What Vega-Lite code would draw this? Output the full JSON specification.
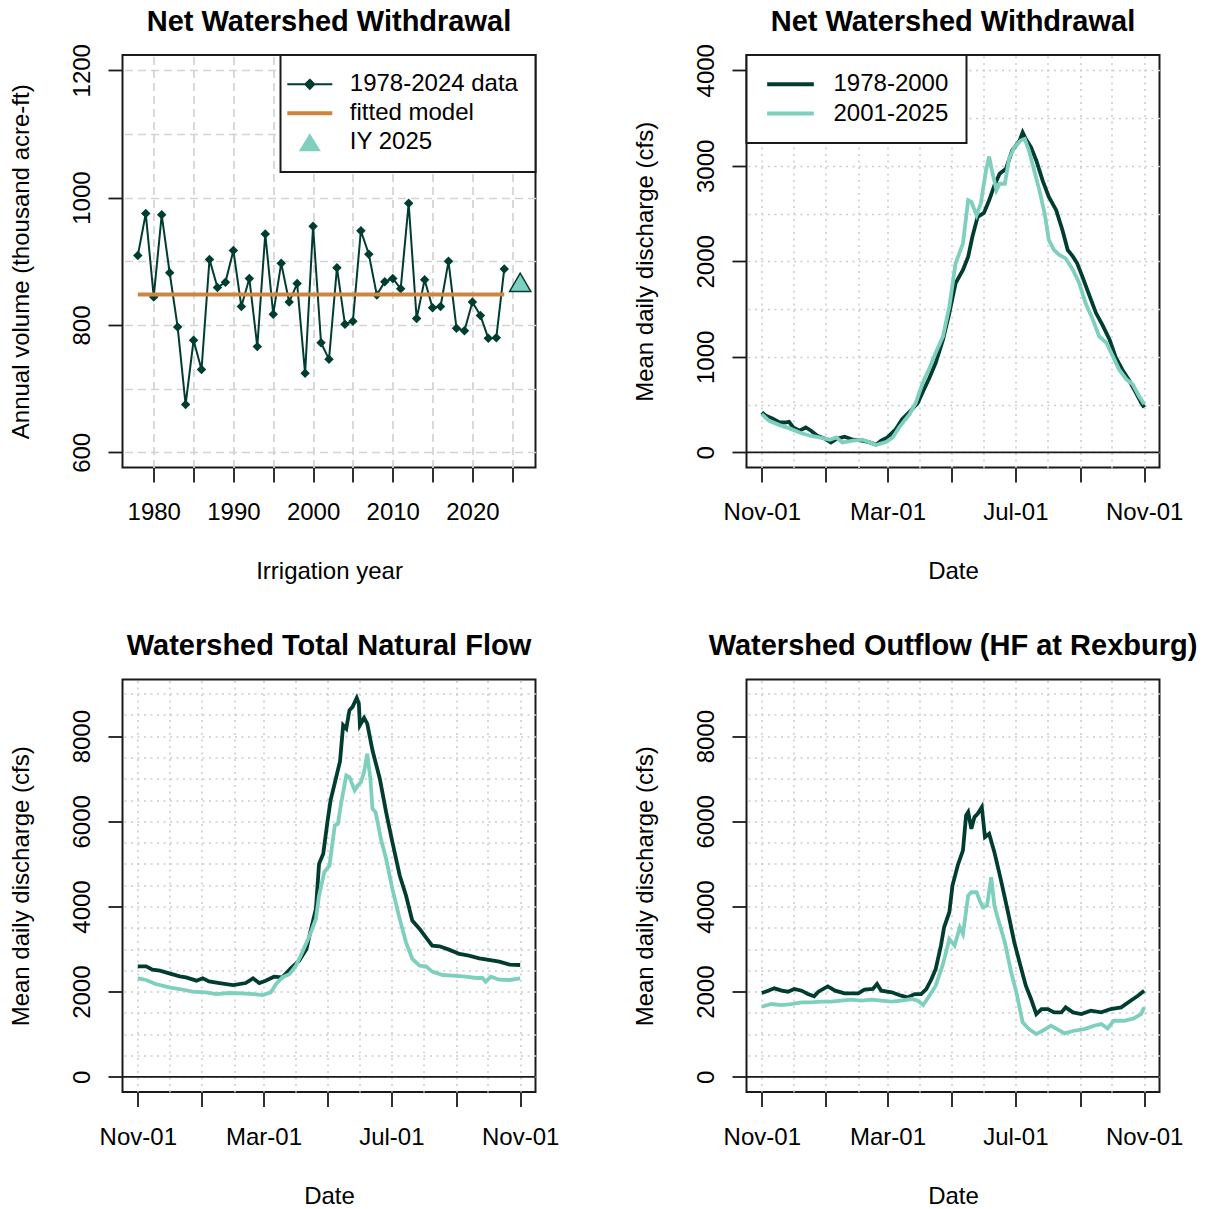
{
"$schema": "https://vega.github.io/schema/vega-lite/v6.json",
"background": "white",
"padding": {"left": 8.5, "top": 7, "right": 0, "bottom": 0},
"bounds": "flush",
"columns": 2,
"spacing": {"row": 211.5, "column": 211},
"resolve": {"scale": {"color": "independent"}, "legend": {"color": "independent"}},
"config": {
  "font": "Liberation Sans",
  "view": {"stroke": "#1a1a1a", "strokeWidth": 2},
  "axis": {"labelFont": "Liberation Sans", "labelFontSize": 24, "labelColor": "#000000", "titleFont": "Liberation Sans", "titleFontSize": 24, "titleFontWeight": "normal", "titleColor": "#000000", "tickColor": "#1a1a1a", "tickWidth": 1.8, "tickSize": 14.5, "domain": false, "grid": false, "labelFlush": false, "labelOverlap": false, "labelBound": false},
  "title": {"font": "Liberation Sans", "fontSize": 29, "fontWeight": "bold", "color": "#000000", "anchor": "middle", "baseline": "alphabetic", "frame": "group"},
  "legend": {"labelFont": "Liberation Sans", "labelFontSize": 24, "labelColor": "#000000", "labelLimit": 400, "strokeColor": "#1a1a1a", "strokeWidth": 2, "fillColor": "#ffffff", "cornerRadius": 0}
},
"datasets": {
  "annual": [
    {"year":1978,"volume":909,"series":"1978-2024 data"},{"year":1979,"volume":975,"series":"1978-2024 data"},{"year":1980,"volume":844,"series":"1978-2024 data"},{"year":1981,"volume":973,"series":"1978-2024 data"},{"year":1982,"volume":882,"series":"1978-2024 data"},{"year":1983,"volume":797,"series":"1978-2024 data"},{"year":1984,"volume":675,"series":"1978-2024 data"},{"year":1985,"volume":776,"series":"1978-2024 data"},{"year":1986,"volume":730,"series":"1978-2024 data"},{"year":1987,"volume":903,"series":"1978-2024 data"},{"year":1988,"volume":859,"series":"1978-2024 data"},{"year":1989,"volume":867,"series":"1978-2024 data"},{"year":1990,"volume":917,"series":"1978-2024 data"},{"year":1991,"volume":829,"series":"1978-2024 data"},{"year":1992,"volume":873,"series":"1978-2024 data"},{"year":1993,"volume":766,"series":"1978-2024 data"},{"year":1994,"volume":943,"series":"1978-2024 data"},{"year":1995,"volume":817,"series":"1978-2024 data"},{"year":1996,"volume":897,"series":"1978-2024 data"},{"year":1997,"volume":836,"series":"1978-2024 data"},{"year":1998,"volume":865,"series":"1978-2024 data"},{"year":1999,"volume":724,"series":"1978-2024 data"},{"year":2000,"volume":955,"series":"1978-2024 data"},{"year":2001,"volume":772,"series":"1978-2024 data"},{"year":2002,"volume":746,"series":"1978-2024 data"},{"year":2003,"volume":890,"series":"1978-2024 data"},{"year":2004,"volume":801,"series":"1978-2024 data"},{"year":2005,"volume":806,"series":"1978-2024 data"},{"year":2006,"volume":948,"series":"1978-2024 data"},{"year":2007,"volume":911,"series":"1978-2024 data"},{"year":2008,"volume":847,"series":"1978-2024 data"},{"year":2009,"volume":868,"series":"1978-2024 data"},{"year":2010,"volume":873,"series":"1978-2024 data"},{"year":2011,"volume":857,"series":"1978-2024 data"},{"year":2012,"volume":991,"series":"1978-2024 data"},{"year":2013,"volume":810,"series":"1978-2024 data"},{"year":2014,"volume":871,"series":"1978-2024 data"},{"year":2015,"volume":827,"series":"1978-2024 data"},{"year":2016,"volume":829,"series":"1978-2024 data"},{"year":2017,"volume":900,"series":"1978-2024 data"},{"year":2018,"volume":795,"series":"1978-2024 data"},{"year":2019,"volume":791,"series":"1978-2024 data"},{"year":2020,"volume":836,"series":"1978-2024 data"},{"year":2021,"volume":815,"series":"1978-2024 data"},{"year":2022,"volume":779,"series":"1978-2024 data"},{"year":2023,"volume":780,"series":"1978-2024 data"},{"year":2024,"volume":888,"series":"1978-2024 data"}
  ],
  "fitted": [
    {"year":1978,"volume":848,"series":"\u00a0fitted model"},{"year":2024,"volume":848,"series":"\u00a0fitted model"}
  ],
  "iy2025": [
    {"year":2026,"volume":867,"series":"IY 2025"}
  ],
  "zero": [{"level":0}],
  "nw": [
    {"day":0,"cfs":417,"period":"1978-2000"},{"day":4,"cfs":382,"period":"1978-2000"},{"day":10,"cfs":354,"period":"1978-2000"},{"day":17,"cfs":312,"period":"1978-2000"},{"day":22,"cfs":312,"period":"1978-2000"},{"day":26,"cfs":319,"period":"1978-2000"},{"day":30,"cfs":260,"period":"1978-2000"},{"day":36,"cfs":226,"period":"1978-2000"},{"day":42,"cfs":260,"period":"1978-2000"},{"day":47,"cfs":226,"period":"1978-2000"},{"day":53,"cfs":174,"period":"1978-2000"},{"day":61,"cfs":139,"period":"1978-2000"},{"day":66,"cfs":104,"period":"1978-2000"},{"day":71,"cfs":139,"period":"1978-2000"},{"day":79,"cfs":163,"period":"1978-2000"},{"day":87,"cfs":132,"period":"1978-2000"},{"day":96,"cfs":122,"period":"1978-2000"},{"day":103,"cfs":104,"period":"1978-2000"},{"day":109,"cfs":80,"period":"1978-2000"},{"day":114,"cfs":122,"period":"1978-2000"},{"day":120,"cfs":156,"period":"1978-2000"},{"day":128,"cfs":243,"period":"1978-2000"},{"day":134,"cfs":347,"period":"1978-2000"},{"day":142,"cfs":434,"period":"1978-2000"},{"day":149,"cfs":520,"period":"1978-2000"},{"day":154,"cfs":640,"period":"1978-2000"},{"day":160,"cfs":780,"period":"1978-2000"},{"day":166,"cfs":937,"period":"1978-2000"},{"day":173,"cfs":1180,"period":"1978-2000"},{"day":179,"cfs":1458,"period":"1978-2000"},{"day":185,"cfs":1771,"period":"1978-2000"},{"day":192,"cfs":1910,"period":"1978-2000"},{"day":197,"cfs":2049,"period":"1978-2000"},{"day":201,"cfs":2257,"period":"1978-2000"},{"day":206,"cfs":2465,"period":"1978-2000"},{"day":212,"cfs":2507,"period":"1978-2000"},{"day":217,"cfs":2639,"period":"1978-2000"},{"day":222,"cfs":2795,"period":"1978-2000"},{"day":227,"cfs":2917,"period":"1978-2000"},{"day":233,"cfs":2969,"period":"1978-2000"},{"day":239,"cfs":3160,"period":"1978-2000"},{"day":246,"cfs":3264,"period":"1978-2000"},{"day":249,"cfs":3351,"period":"1978-2000"},{"day":252,"cfs":3281,"period":"1978-2000"},{"day":257,"cfs":3194,"period":"1978-2000"},{"day":262,"cfs":3056,"period":"1978-2000"},{"day":268,"cfs":2847,"period":"1978-2000"},{"day":274,"cfs":2674,"period":"1978-2000"},{"day":281,"cfs":2535,"period":"1978-2000"},{"day":287,"cfs":2326,"period":"1978-2000"},{"day":292,"cfs":2118,"period":"1978-2000"},{"day":297,"cfs":2049,"period":"1978-2000"},{"day":301,"cfs":1979,"period":"1978-2000"},{"day":306,"cfs":1840,"period":"1978-2000"},{"day":313,"cfs":1632,"period":"1978-2000"},{"day":319,"cfs":1458,"period":"1978-2000"},{"day":325,"cfs":1337,"period":"1978-2000"},{"day":332,"cfs":1180,"period":"1978-2000"},{"day":338,"cfs":990,"period":"1978-2000"},{"day":344,"cfs":868,"period":"1978-2000"},{"day":351,"cfs":747,"period":"1978-2000"},{"day":357,"cfs":625,"period":"1978-2000"},{"day":362,"cfs":521,"period":"1978-2000"},{"day":365,"cfs":469,"period":"1978-2000"},
    {"day":0,"cfs":399,"period":"2001-2025"},{"day":7,"cfs":330,"period":"2001-2025"},{"day":17,"cfs":285,"period":"2001-2025"},{"day":26,"cfs":253,"period":"2001-2025"},{"day":36,"cfs":208,"period":"2001-2025"},{"day":46,"cfs":174,"period":"2001-2025"},{"day":55,"cfs":156,"period":"2001-2025"},{"day":65,"cfs":132,"period":"2001-2025"},{"day":71,"cfs":156,"period":"2001-2025"},{"day":77,"cfs":104,"period":"2001-2025"},{"day":87,"cfs":122,"period":"2001-2025"},{"day":96,"cfs":132,"period":"2001-2025"},{"day":103,"cfs":104,"period":"2001-2025"},{"day":109,"cfs":76,"period":"2001-2025"},{"day":119,"cfs":111,"period":"2001-2025"},{"day":125,"cfs":156,"period":"2001-2025"},{"day":131,"cfs":260,"period":"2001-2025"},{"day":141,"cfs":399,"period":"2001-2025"},{"day":147,"cfs":520,"period":"2001-2025"},{"day":154,"cfs":740,"period":"2001-2025"},{"day":160,"cfs":880,"period":"2001-2025"},{"day":166,"cfs":1042,"period":"2001-2025"},{"day":173,"cfs":1215,"period":"2001-2025"},{"day":179,"cfs":1528,"period":"2001-2025"},{"day":185,"cfs":1979,"period":"2001-2025"},{"day":192,"cfs":2188,"period":"2001-2025"},{"day":197,"cfs":2639,"period":"2001-2025"},{"day":200,"cfs":2622,"period":"2001-2025"},{"day":205,"cfs":2483,"period":"2001-2025"},{"day":209,"cfs":2604,"period":"2001-2025"},{"day":214,"cfs":2951,"period":"2001-2025"},{"day":217,"cfs":3097,"period":"2001-2025"},{"day":220,"cfs":2934,"period":"2001-2025"},{"day":224,"cfs":2743,"period":"2001-2025"},{"day":227,"cfs":2812,"period":"2001-2025"},{"day":232,"cfs":2812,"period":"2001-2025"},{"day":236,"cfs":3073,"period":"2001-2025"},{"day":241,"cfs":3194,"period":"2001-2025"},{"day":247,"cfs":3264,"period":"2001-2025"},{"day":251,"cfs":3281,"period":"2001-2025"},{"day":255,"cfs":3160,"period":"2001-2025"},{"day":260,"cfs":2951,"period":"2001-2025"},{"day":265,"cfs":2743,"period":"2001-2025"},{"day":270,"cfs":2500,"period":"2001-2025"},{"day":274,"cfs":2222,"period":"2001-2025"},{"day":279,"cfs":2118,"period":"2001-2025"},{"day":284,"cfs":2066,"period":"2001-2025"},{"day":290,"cfs":2031,"period":"2001-2025"},{"day":297,"cfs":1910,"period":"2001-2025"},{"day":303,"cfs":1771,"period":"2001-2025"},{"day":309,"cfs":1562,"period":"2001-2025"},{"day":316,"cfs":1389,"period":"2001-2025"},{"day":322,"cfs":1215,"period":"2001-2025"},{"day":329,"cfs":1146,"period":"2001-2025"},{"day":335,"cfs":1007,"period":"2001-2025"},{"day":341,"cfs":868,"period":"2001-2025"},{"day":348,"cfs":764,"period":"2001-2025"},{"day":354,"cfs":712,"period":"2001-2025"},{"day":360,"cfs":590,"period":"2001-2025"},{"day":365,"cfs":503,"period":"2001-2025"}
  ],
  "tnf": [
    {"day":0,"cfs":2595,"period":"1978-2000"},{"day":8,"cfs":2595,"period":"1978-2000"},{"day":14,"cfs":2517,"period":"1978-2000"},{"day":21,"cfs":2493,"period":"1978-2000"},{"day":30,"cfs":2430,"period":"1978-2000"},{"day":40,"cfs":2360,"period":"1978-2000"},{"day":46,"cfs":2336,"period":"1978-2000"},{"day":56,"cfs":2258,"period":"1978-2000"},{"day":62,"cfs":2313,"period":"1978-2000"},{"day":68,"cfs":2242,"period":"1978-2000"},{"day":78,"cfs":2203,"period":"1978-2000"},{"day":91,"cfs":2156,"period":"1978-2000"},{"day":103,"cfs":2203,"period":"1978-2000"},{"day":110,"cfs":2313,"period":"1978-2000"},{"day":116,"cfs":2203,"period":"1978-2000"},{"day":122,"cfs":2258,"period":"1978-2000"},{"day":130,"cfs":2352,"period":"1978-2000"},{"day":138,"cfs":2336,"period":"1978-2000"},{"day":146,"cfs":2548,"period":"1978-2000"},{"day":154,"cfs":2728,"period":"1978-2000"},{"day":161,"cfs":3003,"period":"1978-2000"},{"day":165,"cfs":3434,"period":"1978-2000"},{"day":170,"cfs":3943,"period":"1978-2000"},{"day":173,"cfs":5002,"period":"1978-2000"},{"day":177,"cfs":5237,"period":"1978-2000"},{"day":181,"cfs":5982,"period":"1978-2000"},{"day":184,"cfs":6492,"period":"1978-2000"},{"day":189,"cfs":7001,"period":"1978-2000"},{"day":193,"cfs":7409,"period":"1978-2000"},{"day":196,"cfs":8256,"period":"1978-2000"},{"day":199,"cfs":8177,"period":"1978-2000"},{"day":202,"cfs":8608,"period":"1978-2000"},{"day":205,"cfs":8687,"period":"1978-2000"},{"day":209,"cfs":8898,"period":"1978-2000"},{"day":211,"cfs":8765,"period":"1978-2000"},{"day":212,"cfs":8256,"period":"1978-2000"},{"day":216,"cfs":8428,"period":"1978-2000"},{"day":219,"cfs":8295,"period":"1978-2000"},{"day":224,"cfs":7668,"period":"1978-2000"},{"day":231,"cfs":7001,"period":"1978-2000"},{"day":237,"cfs":6217,"period":"1978-2000"},{"day":243,"cfs":5512,"period":"1978-2000"},{"day":250,"cfs":4728,"period":"1978-2000"},{"day":256,"cfs":4257,"period":"1978-2000"},{"day":262,"cfs":3669,"period":"1978-2000"},{"day":269,"cfs":3473,"period":"1978-2000"},{"day":275,"cfs":3277,"period":"1978-2000"},{"day":281,"cfs":3081,"period":"1978-2000"},{"day":288,"cfs":3065,"period":"1978-2000"},{"day":297,"cfs":2987,"period":"1978-2000"},{"day":307,"cfs":2885,"period":"1978-2000"},{"day":316,"cfs":2846,"period":"1978-2000"},{"day":326,"cfs":2783,"period":"1978-2000"},{"day":335,"cfs":2744,"period":"1978-2000"},{"day":345,"cfs":2705,"period":"1978-2000"},{"day":355,"cfs":2634,"period":"1978-2000"},{"day":365,"cfs":2626,"period":"1978-2000"},
    {"day":0,"cfs":2313,"period":"2001-2025"},{"day":8,"cfs":2274,"period":"2001-2025"},{"day":17,"cfs":2180,"period":"2001-2025"},{"day":30,"cfs":2101,"period":"2001-2025"},{"day":40,"cfs":2062,"period":"2001-2025"},{"day":52,"cfs":1999,"period":"2001-2025"},{"day":65,"cfs":1984,"period":"2001-2025"},{"day":75,"cfs":1944,"period":"2001-2025"},{"day":87,"cfs":1968,"period":"2001-2025"},{"day":100,"cfs":1960,"period":"2001-2025"},{"day":110,"cfs":1944,"period":"2001-2025"},{"day":119,"cfs":1921,"period":"2001-2025"},{"day":127,"cfs":1984,"period":"2001-2025"},{"day":132,"cfs":2180,"period":"2001-2025"},{"day":138,"cfs":2336,"period":"2001-2025"},{"day":145,"cfs":2415,"period":"2001-2025"},{"day":151,"cfs":2611,"period":"2001-2025"},{"day":157,"cfs":2924,"period":"2001-2025"},{"day":164,"cfs":3316,"period":"2001-2025"},{"day":170,"cfs":3708,"period":"2001-2025"},{"day":173,"cfs":4257,"period":"2001-2025"},{"day":178,"cfs":4806,"period":"2001-2025"},{"day":183,"cfs":4963,"period":"2001-2025"},{"day":188,"cfs":5903,"period":"2001-2025"},{"day":191,"cfs":5943,"period":"2001-2025"},{"day":194,"cfs":6413,"period":"2001-2025"},{"day":199,"cfs":7080,"period":"2001-2025"},{"day":202,"cfs":7040,"period":"2001-2025"},{"day":207,"cfs":6727,"period":"2001-2025"},{"day":210,"cfs":6844,"period":"2001-2025"},{"day":213,"cfs":6923,"period":"2001-2025"},{"day":216,"cfs":7158,"period":"2001-2025"},{"day":219,"cfs":7589,"period":"2001-2025"},{"day":222,"cfs":7001,"period":"2001-2025"},{"day":224,"cfs":6295,"period":"2001-2025"},{"day":227,"cfs":6217,"period":"2001-2025"},{"day":232,"cfs":5590,"period":"2001-2025"},{"day":237,"cfs":5120,"period":"2001-2025"},{"day":243,"cfs":4414,"period":"2001-2025"},{"day":250,"cfs":3708,"period":"2001-2025"},{"day":256,"cfs":3159,"period":"2001-2025"},{"day":262,"cfs":2767,"period":"2001-2025"},{"day":269,"cfs":2611,"period":"2001-2025"},{"day":275,"cfs":2595,"period":"2001-2025"},{"day":281,"cfs":2470,"period":"2001-2025"},{"day":291,"cfs":2391,"period":"2001-2025"},{"day":300,"cfs":2376,"period":"2001-2025"},{"day":313,"cfs":2352,"period":"2001-2025"},{"day":323,"cfs":2321,"period":"2001-2025"},{"day":329,"cfs":2321,"period":"2001-2025"},{"day":332,"cfs":2234,"period":"2001-2025"},{"day":337,"cfs":2352,"period":"2001-2025"},{"day":345,"cfs":2281,"period":"2001-2025"},{"day":355,"cfs":2274,"period":"2001-2025"},{"day":365,"cfs":2313,"period":"2001-2025"}
  ],
  "out": [
    {"day":0,"cfs":1968,"period":"1978-2000"},{"day":6,"cfs":2023,"period":"1978-2000"},{"day":12,"cfs":2078,"period":"1978-2000"},{"day":19,"cfs":2023,"period":"1978-2000"},{"day":25,"cfs":1999,"period":"1978-2000"},{"day":31,"cfs":2062,"period":"1978-2000"},{"day":38,"cfs":2023,"period":"1978-2000"},{"day":44,"cfs":1944,"period":"1978-2000"},{"day":50,"cfs":1889,"period":"1978-2000"},{"day":54,"cfs":1999,"period":"1978-2000"},{"day":63,"cfs":2125,"period":"1978-2000"},{"day":70,"cfs":2023,"period":"1978-2000"},{"day":79,"cfs":1960,"period":"1978-2000"},{"day":92,"cfs":1960,"period":"1978-2000"},{"day":98,"cfs":2046,"period":"1978-2000"},{"day":106,"cfs":2062,"period":"1978-2000"},{"day":110,"cfs":2180,"period":"1978-2000"},{"day":114,"cfs":2023,"period":"1978-2000"},{"day":124,"cfs":1984,"period":"1978-2000"},{"day":133,"cfs":1905,"period":"1978-2000"},{"day":139,"cfs":1866,"period":"1978-2000"},{"day":146,"cfs":1944,"period":"1978-2000"},{"day":152,"cfs":1944,"period":"1978-2000"},{"day":157,"cfs":2062,"period":"1978-2000"},{"day":162,"cfs":2297,"period":"1978-2000"},{"day":166,"cfs":2532,"period":"1978-2000"},{"day":171,"cfs":3081,"period":"1978-2000"},{"day":174,"cfs":3512,"period":"1978-2000"},{"day":179,"cfs":3865,"period":"1978-2000"},{"day":182,"cfs":4492,"period":"1978-2000"},{"day":187,"cfs":4963,"period":"1978-2000"},{"day":192,"cfs":5316,"period":"1978-2000"},{"day":195,"cfs":6139,"period":"1978-2000"},{"day":197,"cfs":6217,"period":"1978-2000"},{"day":200,"cfs":5825,"period":"1978-2000"},{"day":203,"cfs":6100,"period":"1978-2000"},{"day":206,"cfs":6178,"period":"1978-2000"},{"day":210,"cfs":6335,"period":"1978-2000"},{"day":213,"cfs":5629,"period":"1978-2000"},{"day":217,"cfs":5708,"period":"1978-2000"},{"day":222,"cfs":5276,"period":"1978-2000"},{"day":228,"cfs":4649,"period":"1978-2000"},{"day":235,"cfs":3865,"period":"1978-2000"},{"day":241,"cfs":3160,"period":"1978-2000"},{"day":246,"cfs":2689,"period":"1978-2000"},{"day":252,"cfs":2140,"period":"1978-2000"},{"day":257,"cfs":1827,"period":"1978-2000"},{"day":262,"cfs":1474,"period":"1978-2000"},{"day":267,"cfs":1592,"period":"1978-2000"},{"day":273,"cfs":1592,"period":"1978-2000"},{"day":279,"cfs":1513,"period":"1978-2000"},{"day":286,"cfs":1513,"period":"1978-2000"},{"day":290,"cfs":1631,"period":"1978-2000"},{"day":297,"cfs":1513,"period":"1978-2000"},{"day":305,"cfs":1474,"period":"1978-2000"},{"day":314,"cfs":1552,"period":"1978-2000"},{"day":324,"cfs":1513,"period":"1978-2000"},{"day":333,"cfs":1592,"period":"1978-2000"},{"day":343,"cfs":1631,"period":"1978-2000"},{"day":352,"cfs":1788,"period":"1978-2000"},{"day":359,"cfs":1905,"period":"1978-2000"},{"day":365,"cfs":2023,"period":"1978-2000"},
    {"day":0,"cfs":1646,"period":"2001-2025"},{"day":9,"cfs":1709,"period":"2001-2025"},{"day":19,"cfs":1686,"period":"2001-2025"},{"day":28,"cfs":1709,"period":"2001-2025"},{"day":38,"cfs":1748,"period":"2001-2025"},{"day":47,"cfs":1748,"period":"2001-2025"},{"day":57,"cfs":1764,"period":"2001-2025"},{"day":66,"cfs":1764,"period":"2001-2025"},{"day":76,"cfs":1788,"period":"2001-2025"},{"day":85,"cfs":1811,"period":"2001-2025"},{"day":95,"cfs":1788,"period":"2001-2025"},{"day":105,"cfs":1811,"period":"2001-2025"},{"day":114,"cfs":1788,"period":"2001-2025"},{"day":124,"cfs":1764,"period":"2001-2025"},{"day":133,"cfs":1788,"period":"2001-2025"},{"day":143,"cfs":1827,"period":"2001-2025"},{"day":149,"cfs":1788,"period":"2001-2025"},{"day":154,"cfs":1686,"period":"2001-2025"},{"day":160,"cfs":1905,"period":"2001-2025"},{"day":166,"cfs":2140,"period":"2001-2025"},{"day":173,"cfs":2650,"period":"2001-2025"},{"day":179,"cfs":3238,"period":"2001-2025"},{"day":184,"cfs":3081,"period":"2001-2025"},{"day":189,"cfs":3512,"period":"2001-2025"},{"day":192,"cfs":3356,"period":"2001-2025"},{"day":197,"cfs":4257,"period":"2001-2025"},{"day":200,"cfs":4335,"period":"2001-2025"},{"day":205,"cfs":4335,"period":"2001-2025"},{"day":208,"cfs":4140,"period":"2001-2025"},{"day":211,"cfs":3983,"period":"2001-2025"},{"day":215,"cfs":4022,"period":"2001-2025"},{"day":219,"cfs":4688,"period":"2001-2025"},{"day":222,"cfs":4022,"period":"2001-2025"},{"day":225,"cfs":3748,"period":"2001-2025"},{"day":232,"cfs":3160,"period":"2001-2025"},{"day":238,"cfs":2454,"period":"2001-2025"},{"day":243,"cfs":1984,"period":"2001-2025"},{"day":249,"cfs":1278,"period":"2001-2025"},{"day":255,"cfs":1121,"period":"2001-2025"},{"day":262,"cfs":1004,"period":"2001-2025"},{"day":268,"cfs":1082,"period":"2001-2025"},{"day":276,"cfs":1200,"period":"2001-2025"},{"day":282,"cfs":1121,"period":"2001-2025"},{"day":289,"cfs":1019,"period":"2001-2025"},{"day":298,"cfs":1082,"period":"2001-2025"},{"day":308,"cfs":1121,"period":"2001-2025"},{"day":317,"cfs":1200,"period":"2001-2025"},{"day":324,"cfs":1239,"period":"2001-2025"},{"day":330,"cfs":1137,"period":"2001-2025"},{"day":336,"cfs":1317,"period":"2001-2025"},{"day":346,"cfs":1317,"period":"2001-2025"},{"day":355,"cfs":1372,"period":"2001-2025"},{"day":362,"cfs":1474,"period":"2001-2025"},{"day":365,"cfs":1631,"period":"2001-2025"}
  ]
},
"concat": [
  {
    "width": 413, "height": 412.6,
    "title": {"text": "Net Watershed Withdrawal", "offset": 6.5},
    "resolve": {"axis": {"x": "independent", "y": "independent"}},
    "layer": [
      {
        "data": {"name": "annual"},
        "mark": {"type": "line", "strokeWidth": 2, "point": {"filled": true, "shape": "diamond", "size": 90, "opacity": 1}},
        "encoding": {
          "x": {"field": "year", "type": "quantitative", "scale": {"domain": [1976.08, 2027.92], "nice": false, "zero": false},
                "axis": {"orient": "bottom", "values": [1980,1985,1990,1995,2000,2005,2010,2015,2020,2025], "format": "d", "labelExpr": "datum.value % 10 === 0 ? datum.label : ''", "title": "Irrigation year", "titleY": 110.9, "titleBaseline": "alphabetic", "labelBaseline": "alphabetic", "labelPadding": 37.5, "labelAlign": "center"}},
          "y": {"field": "volume", "type": "quantitative", "scale": {"domain": [576, 1224], "nice": false, "zero": false},
                "axis": {"orient": "left", "values": [600, 800, 1000, 1200], "format": "d", "title": "Annual volume (thousand acre-ft)", "titleAngle": 270, "titleX": -93.7, "titleY": 206.3, "titleBaseline": "alphabetic", "titleAlign": "center", "labelAngle": 270, "labelAlign": "center", "labelBaseline": "alphabetic", "labelPadding": 19}},
          "color": {"field": "series", "type": "nominal",
                    "scale": {"domain": ["1978-2024 data", "\u00a0fitted model", "IY 2025"], "range": ["#003d30", "#cd853f", "#7fcfbf"]},
                    "legend": {"orient": "top-right", "offset": 0, "title": null, "padding": 17.3, "symbolSize": 2025, "symbolOffset": 0, "labelOffset": 28, "rowPadding": 5,
                               "encode": {"symbols": {"update": {
                                 "shape": {"signal": "datum.value === 'IY 2025' ? 'M0,-0.4L0.49,0.4L-0.49,0.4Z' : datum.value === '1978-2024 data' ? 'M-1,0L1,0M0,-0.2L0.2,0L0,0.2L-0.2,0Z' : 'M-1,0L1,0'"},
                                 "fill": {"signal": "datum.value === 'IY 2025' ? '#7fcfbf' : datum.value === '1978-2024 data' ? '#003d30' : null"},
                                 "stroke": {"signal": "datum.value === 'IY 2025' ? null : datum.value === '1978-2024 data' ? '#003d30' : '#cd853f'"},
                                 "strokeWidth": {"signal": "datum.value === '1978-2024 data' ? 2 : datum.value === 'IY 2025' ? 0 : 4"},
                                 "opacity": {"value": 1}
                               }}}}}
        }
      },
      {
        "data": {"name": "fitted"},
        "mark": {"type": "line", "strokeWidth": 4},
        "encoding": {
          "x": {"field": "year", "type": "quantitative", "scale": {"domain": [1976.08, 2027.92], "nice": false, "zero": false},
                "axis": {"orient": "top", "values": [1980,1985,1990,1995,2000,2005,2010,2015,2020,2025], "grid": true, "gridDash": [8, 5], "gridColor": "#d3d3d3", "gridWidth": 1.7, "labels": false, "ticks": false, "domain": false, "title": null}},
          "y": {"field": "volume", "type": "quantitative", "scale": {"domain": [576, 1224], "nice": false, "zero": false},
                "axis": {"orient": "right", "values": [600,700,800,900,1000,1100,1200], "grid": true, "gridDash": [8, 5], "gridColor": "#d3d3d3", "gridWidth": 1.7, "labels": false, "ticks": false, "domain": false, "title": null}},
          "color": {"field": "series", "type": "nominal"}
        }
      },
      {
        "data": {"name": "iy2025"},
        "mark": {"type": "point", "shape": "triangle-up", "filled": true, "size": 450, "stroke": "#003d30", "strokeWidth": 1.5, "opacity": 1},
        "encoding": {
          "x": {"field": "year", "type": "quantitative", "scale": {"domain": [1976.08, 2027.92], "nice": false, "zero": false}, "axis": null},
          "y": {"field": "volume", "type": "quantitative", "scale": {"domain": [576, 1224], "nice": false, "zero": false}, "axis": null},
          "color": {"field": "series", "type": "nominal"}
        }
      }
    ]
  },
  {
    "width": 413, "height": 412.6,
    "title": {"text": "Net Watershed Withdrawal", "offset": 6.5},
    "resolve": {"axis": {"x": "independent", "y": "independent"}},
    "layer": [
      {
        "data": {"name": "zero"},
        "mark": {"type": "rule", "color": "#1a1a1a", "strokeWidth": 1.8},
        "encoding": {"y": {"field": "level", "type": "quantitative", "scale": {"domain": [-160, 4160], "nice": false, "zero": false}, "axis": null}}
      },
      {
        "data": {"name": "nw"},
        "transform": [{"filter": "datum.period === '1978-2000'"}],
        "mark": {"type": "line", "strokeWidth": 3.8},
        "encoding": {
          "x": {"field": "day", "type": "quantitative", "scale": {"domain": [-14.6, 379.6], "nice": false, "zero": false},
                "axis": {"orient": "bottom", "values": [0, 61, 120, 181, 242, 304, 365], "labelExpr": "datum.value === 0 || datum.value === 365 ? 'Nov-01' : datum.value === 120 ? 'Mar-01' : datum.value === 242 ? 'Jul-01' : ''", "title": "Date", "titleY": 110.9, "titleBaseline": "alphabetic", "labelBaseline": "alphabetic", "labelPadding": 37.5, "labelAlign": "center"}},
          "y": {"field": "cfs", "type": "quantitative", "scale": {"domain": [-160, 4160], "nice": false, "zero": false},
                "axis": {"orient": "left", "values": [0, 1000, 2000, 3000, 4000], "format": "d", "title": "Mean daily discharge (cfs)", "titleAngle": 270, "titleX": -93.7, "titleY": 206.3, "titleBaseline": "alphabetic", "titleAlign": "center", "labelAngle": 270, "labelAlign": "center", "labelBaseline": "alphabetic", "labelPadding": 19}},
          "color": {"field": "period", "type": "nominal", "scale": {"domain": ["1978-2000", "2001-2025"], "range": ["#003d30", "#7fcfbf"]},
                    "legend": {"orient": "top-left", "offset": 0, "title": null, "padding": 17.3, "symbolOffset": 14.7, "symbolSize": 2180, "labelOffset": 31, "rowPadding": 5.3,
                               "encode": {"symbols": {"update": {
                                 "shape": {"value": "M-1,0L1,0"},
                                 "fill": {"value": "transparent"},
                                 "stroke": {"signal": "datum.value === '1978-2000' ? '#003d30' : '#7fcfbf'"},
                                 "strokeWidth": {"signal": "datum.value === '1978-2000' ? 4 : 4"},
                                 "opacity": {"value": 1}
                               }}}}}
        }
      },
      {
        "data": {"name": "nw"},
        "transform": [{"filter": "datum.period === '2001-2025'"}],
        "mark": {"type": "line", "strokeWidth": 3.8},
        "encoding": {
          "x": {"field": "day", "type": "quantitative", "scale": {"domain": [-14.6, 379.6], "nice": false, "zero": false},
                "axis": {"orient": "top", "values": [0,30,61,92,120,151,181,212,242,273,304,334,365], "grid": true, "gridDash": [2, 4.5], "gridColor": "#cccccc", "gridWidth": 1.5, "labels": false, "ticks": false, "domain": false, "title": null}},
          "y": {"field": "cfs", "type": "quantitative", "scale": {"domain": [-160, 4160], "nice": false, "zero": false},
                "axis": {"orient": "right", "values": [0,500,1000,1500,2000,2500,3000,3500,4000], "grid": true, "gridDash": [2, 4.5], "gridColor": "#cccccc", "gridWidth": 1.5, "labels": false, "ticks": false, "domain": false, "title": null}},
          "color": {"field": "period", "type": "nominal"}
        }
      }
    ]
  },
  {
    "width": 413, "height": 412.6,
    "title": {"text": "Watershed Total Natural Flow", "offset": 18.2},
    "resolve": {"axis": {"x": "independent", "y": "independent"}},
    "layer": [
      {
        "data": {"name": "zero"},
        "mark": {"type": "rule", "color": "#1a1a1a", "strokeWidth": 1.8},
        "encoding": {"y": {"field": "level", "type": "quantitative", "scale": {"domain": [-359, 9331], "nice": false, "zero": false}, "axis": null}}
      },
      {
        "data": {"name": "tnf"},
        "transform": [{"filter": "datum.period === '1978-2000'"}],
        "mark": {"type": "line", "strokeWidth": 3.8},
        "encoding": {
          "x": {"field": "day", "type": "quantitative", "scale": {"domain": [-14.6, 379.6], "nice": false, "zero": false},
                "axis": {"orient": "bottom", "values": [0, 61, 120, 181, 242, 304, 365], "labelExpr": "datum.value === 0 || datum.value === 365 ? 'Nov-01' : datum.value === 120 ? 'Mar-01' : datum.value === 242 ? 'Jul-01' : ''", "title": "Date", "titleY": 110.9, "titleBaseline": "alphabetic", "labelBaseline": "alphabetic", "labelPadding": 37.5, "labelAlign": "center"}},
          "y": {"field": "cfs", "type": "quantitative", "scale": {"domain": [-359, 9331], "nice": false, "zero": false},
                "axis": {"orient": "left", "values": [0, 2000, 4000, 6000, 8000], "format": "d", "title": "Mean daily discharge (cfs)", "titleAngle": 270, "titleX": -93.7, "titleY": 206.3, "titleBaseline": "alphabetic", "titleAlign": "center", "labelAngle": 270, "labelAlign": "center", "labelBaseline": "alphabetic", "labelPadding": 19}},
          "color": {"field": "period", "type": "nominal", "scale": {"domain": ["1978-2000", "2001-2025"], "range": ["#003d30", "#7fcfbf"]}, "legend": null}
        }
      },
      {
        "data": {"name": "tnf"},
        "transform": [{"filter": "datum.period === '2001-2025'"}],
        "mark": {"type": "line", "strokeWidth": 3.8},
        "encoding": {
          "x": {"field": "day", "type": "quantitative", "scale": {"domain": [-14.6, 379.6], "nice": false, "zero": false},
                "axis": {"orient": "top", "values": [0,30,61,92,120,151,181,212,242,273,304,334,365], "grid": true, "gridDash": [2, 4.5], "gridColor": "#cccccc", "gridWidth": 1.5, "labels": false, "ticks": false, "domain": false, "title": null}},
          "y": {"field": "cfs", "type": "quantitative", "scale": {"domain": [-359, 9331], "nice": false, "zero": false},
                "axis": {"orient": "right", "values": [0,500,1000,1500,2000,2500,3000,3500,4000,4500,5000,5500,6000,6500,7000,7500,8000,8500,9000], "grid": true, "gridDash": [2, 4.5], "gridColor": "#cccccc", "gridWidth": 1.5, "labels": false, "ticks": false, "domain": false, "title": null}},
          "color": {"field": "period", "type": "nominal", "legend": null}
        }
      }
    ]
  },
  {
    "width": 413, "height": 412.6,
    "title": {"text": "Watershed Outflow (HF at Rexburg)", "offset": 18.2},
    "resolve": {"axis": {"x": "independent", "y": "independent"}},
    "layer": [
      {
        "data": {"name": "zero"},
        "mark": {"type": "rule", "color": "#1a1a1a", "strokeWidth": 1.8},
        "encoding": {"y": {"field": "level", "type": "quantitative", "scale": {"domain": [-359, 9331], "nice": false, "zero": false}, "axis": null}}
      },
      {
        "data": {"name": "out"},
        "transform": [{"filter": "datum.period === '1978-2000'"}],
        "mark": {"type": "line", "strokeWidth": 3.8},
        "encoding": {
          "x": {"field": "day", "type": "quantitative", "scale": {"domain": [-14.6, 379.6], "nice": false, "zero": false},
                "axis": {"orient": "bottom", "values": [0, 61, 120, 181, 242, 304, 365], "labelExpr": "datum.value === 0 || datum.value === 365 ? 'Nov-01' : datum.value === 120 ? 'Mar-01' : datum.value === 242 ? 'Jul-01' : ''", "title": "Date", "titleY": 110.9, "titleBaseline": "alphabetic", "labelBaseline": "alphabetic", "labelPadding": 37.5, "labelAlign": "center"}},
          "y": {"field": "cfs", "type": "quantitative", "scale": {"domain": [-359, 9331], "nice": false, "zero": false},
                "axis": {"orient": "left", "values": [0, 2000, 4000, 6000, 8000], "format": "d", "title": "Mean daily discharge (cfs)", "titleAngle": 270, "titleX": -93.7, "titleY": 206.3, "titleBaseline": "alphabetic", "titleAlign": "center", "labelAngle": 270, "labelAlign": "center", "labelBaseline": "alphabetic", "labelPadding": 19}},
          "color": {"field": "period", "type": "nominal", "scale": {"domain": ["1978-2000", "2001-2025"], "range": ["#003d30", "#7fcfbf"]}, "legend": null}
        }
      },
      {
        "data": {"name": "out"},
        "transform": [{"filter": "datum.period === '2001-2025'"}],
        "mark": {"type": "line", "strokeWidth": 3.8},
        "encoding": {
          "x": {"field": "day", "type": "quantitative", "scale": {"domain": [-14.6, 379.6], "nice": false, "zero": false},
                "axis": {"orient": "top", "values": [0,30,61,92,120,151,181,212,242,273,304,334,365], "grid": true, "gridDash": [2, 4.5], "gridColor": "#cccccc", "gridWidth": 1.5, "labels": false, "ticks": false, "domain": false, "title": null}},
          "y": {"field": "cfs", "type": "quantitative", "scale": {"domain": [-359, 9331], "nice": false, "zero": false},
                "axis": {"orient": "right", "values": [0,500,1000,1500,2000,2500,3000,3500,4000,4500,5000,5500,6000,6500,7000,7500,8000,8500,9000], "grid": true, "gridDash": [2, 4.5], "gridColor": "#cccccc", "gridWidth": 1.5, "labels": false, "ticks": false, "domain": false, "title": null}},
          "color": {"field": "period", "type": "nominal", "legend": null}
        }
      }
    ]
  }
]
}
